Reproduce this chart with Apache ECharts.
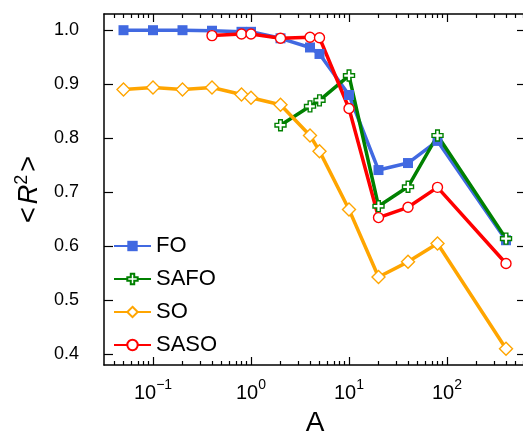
<!DOCTYPE html>
<html><head><meta charset="utf-8">
<script src="https://cdn.jsdelivr.net/npm/echarts@6/dist/echarts.min.js"></script>
<style>html,body{margin:0;padding:0;background:#fff}#c{width:523px;height:436px}</style>
</head><body><div id="c"></div>
<script>
const A_all = [0.05, 0.1, 0.2, 0.4, 0.8, 1, 2, 4, 5, 10, 20, 40, 80, 400];
const FO = [1.0, 1.0, 1.0, 0.999, 0.997, 0.997, 0.985, 0.968, 0.956, 0.88, 0.741, 0.754, 0.795, 0.611];
const A_safo = [2, 4, 5, 10, 20, 40, 80, 400];
const SAFO = [0.824, 0.859, 0.870, 0.916, 0.674, 0.710, 0.805, 0.614];
const SO = [0.890, 0.894, 0.890, 0.894, 0.881, 0.875, 0.862, 0.805, 0.776, 0.668, 0.543, 0.571, 0.605, 0.410];
const A_saso = [0.4, 0.8, 1, 2, 4, 5, 10, 20, 40, 80, 400];
const SASO = [0.990, 0.993, 0.993, 0.985, 0.987, 0.986, 0.855, 0.653, 0.672, 0.709, 0.568];
const xMajor = [0.1, 1, 10, 100];
const xMinor = [0.04,0.05,0.06,0.07,0.08,0.09, 0.2,0.3,0.4,0.5,0.6,0.7,0.8,0.9, 2,3,4,5,6,7,8,9, 20,30,40,50,60,70,80,90, 200,300,400,500,600];
const yTicks = [0.4, 0.5, 0.6, 0.7, 0.8, 0.9, 1.0];

const zip = (xs, ys) => xs.map((x, i) => [x, ys[i]]);
const font = 'Liberation Sans, Arial, sans-serif';
const crossPath = 'path://M1,0 H2 V1 H3 V2 H2 V3 H1 V2 H0 V1 H1 Z';
const XMIN = Math.pow(10, -1.5), XMAX = Math.pow(10, 2.806);

function xAx(pos, major) {
  return {
    type: 'log', logBase: 10, min: XMIN, max: XMAX, position: pos,
    axisLine: { show: major, lineStyle: { color: '#000', width: 1.5 } },
    axisTick: { show: true, inside: true, length: major ? 8 : 4, customValues: major ? xMajor : xMinor,
      lineStyle: { color: '#000', width: 1.2 } },
    axisLabel: (major && pos === 'bottom') ? {
      show: true, customValues: xMajor, margin: 13,
      formatter: v => '{b|10}{s|' + String(Math.round(Math.log10(v))).replace('-', '\u2212') + '}',
      rich: { b: { fontSize: 20, lineHeight: 20, fontFamily: font, color: '#000', padding: [10, 0, 0, 0] },
              s: { fontSize: 14, lineHeight: 14, fontFamily: font, color: '#000', verticalAlign: 'top' } }
    } : { show: false },
    splitLine: { show: false },
    name: (major && pos === 'bottom') ? 'A' : '',
    nameLocation: 'middle', nameGap: 44,
    nameTextStyle: { fontSize: 28, fontFamily: font, color: '#000' }
  };
}
function yAx(pos) {
  return {
    type: 'value', min: 0.38, max: 1.03, position: pos,
    axisLine: { show: true, lineStyle: { color: '#000', width: 1.5 } },
    axisTick: { show: true, inside: true, length: 9, customValues: yTicks, lineStyle: { color: '#000', width: 1.2 } },
    axisLabel: pos === 'left' ? { show: true, customValues: yTicks, margin: 25, fontSize: 18, fontFamily: font, color: '#000',
      formatter: v => v.toFixed(1) } : { show: false },
    splitLine: { show: false },
    name: pos === 'left' ? '{a|<}{i|R}{s|2}{a|>}' : '',
    nameLocation: 'middle', nameGap: 42, nameRotate: 90,
    nameTextStyle: { rich: {
      a: { fontSize: 27, fontFamily: font, color: '#000', padding: [0, 3, 0, 3] },
      i: { fontSize: 27, fontFamily: font, color: '#000', fontStyle: 'italic' },
      s: { fontSize: 18, fontFamily: font, color: '#000', padding: [0, 0, 16, 0] } } }
  };
}
function ser(name, data, color, symbol, size, filled) {
  return {
    name, type: 'line', data, symbol, symbolSize: size,
    lineStyle: { color, width: 3.5 },
    itemStyle: filled ? { color, borderColor: color, borderWidth: 0 } : { color: '#fff', borderColor: color, borderWidth: 1.4 },
    color, showAllSymbol: true, animation: false
  };
}
const chart = echarts.init(document.getElementById('c'));
chart.setOption({
  animation: false,
  grid: { left: 104, right: -3, top: 14, bottom: 71, containLabel: false, outerBoundsMode: 'none' },
  xAxis: [xAx('bottom', true), xAx('bottom', false), xAx('top', true), xAx('top', false)],
  yAxis: [yAx('left'), yAx('right')],
  legend: {
    orient: 'vertical', left: 108, top: 230, itemWidth: 37, itemHeight: 13, itemGap: 11,
    textStyle: { fontSize: 22, fontFamily: font, color: '#000', lineHeight: 22 },
    data: ['FO', 'SAFO', 'SO', 'SASO']
  },
  series: [
    ser('FO', zip(A_all, FO), '#4169E1', 'rect', 10, true),
    ser('SAFO', zip(A_safo, SAFO), '#008000', crossPath, 11, false),
    ser('SO', zip(A_all, SO), '#FFA500', 'diamond', 13, false),
    ser('SASO', zip(A_saso, SASO), '#FF0000', 'circle', 10, false)
  ]
});
</script></body></html>
